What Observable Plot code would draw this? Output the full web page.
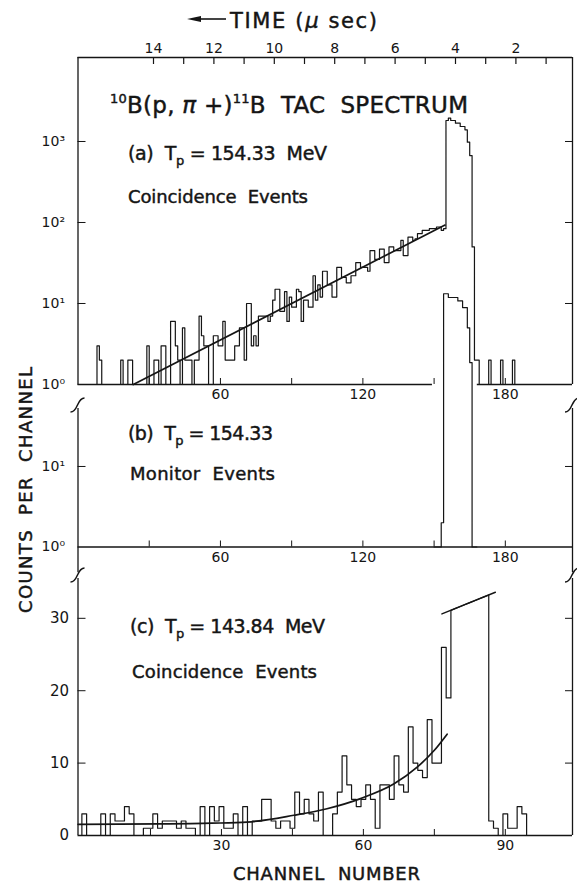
<!DOCTYPE html>
<html><head><meta charset="utf-8">
<script src="https://cdn.jsdelivr.net/npm/d3@7"></script>
<script src="https://cdn.jsdelivr.net/npm/@observablehq/plot@0.6"></script>
<style>
html,body{margin:0;padding:0;background:#fff;}
#chart{position:relative;width:577px;height:886px;overflow:hidden;background:#fff;}
#chart svg{position:absolute;left:0;top:0;}
</style></head><body><div id="chart"></div>
<script>
// ---------------- data ----------------
const timeTicks = [1,2,3,4,5,6,7,8,9,10,11,12,13,14];
const timeLabels = [14,12,10,8,6,4,2];
const abTicks = [30,60,90,120,150,180];
const abLabels = [60,120,180];
const cTicks = [15,30,45,60,75,90];
const cLabels = [30,60,90];
const aYTicks = [10,100,1000];
const aYLabels = [1,10,100,1000];
const bYTicks = [10];
const bYLabels = [1,10];
const cYTicks = [10,20,30];
const cYLabels = [0,10,20,30];

// (a) coincidence events, counts per channel starting at channel 0
const aStart = 0;
const aCounts = [
  0,0,0,0,0,0,0,0, 3,2,                 // 0-9
  0,0,0,0,0,0,0,0, 2,0,                 // 10-19
  0,2,2,0,0,0,0,0,0,3,                  // 20-29
  0,0,2,2,0,3,3,0,0,6,                  // 30-39
  6,3,2,0,5,2,2,2,0,2,                  // 40-49
  2,7,4,3,3,0,0,4,4,3,                  // 50-59
  3,6,2,2,2,2,3,3,5,5,                  // 60-69
  2,10,10,3,4,3,7,7,7,7,                // 70-79
  6,7,11,15,15,8,8,14,6,12,             // 80-89
  9,9,15,14,6,11,11,9,9,22,             // 90-99
  11,17,12,25,25,17,17,12,12,28,        // 100-109
  28,21,21,18,18,22,22,32,32,28,        // 110-119
  28,28,25,45,45,35,35,47,47,32,        // 120-129
  32,50,50,45,45,45,60,39,39,66,        // 130-139
  66,60,63,73,73,80,80,80,84,84,        // 140-149
  84,88,88,80,84,1816,1940,1816,1816,1683, // 150-159
  1683,1531,1531,1394,980,671,50,2,2,0, // 160-169
  0,0,0,2,0,0,0,0,2,0,                  // 170-179
  0,0,0,2,0                             // 180-184
];
const aFit = [{ch: 23.3, n: 1}, {ch: 154.6, n: 93}];
const aBaseline = [{from: 0, to: 149.3}, {from: 168.2, to: 208.3}];

// (b) monitor events (channels 150-167)
const bStart = 150;
const bCounts = [0,0,0,2,1397,1397,1255,1255,1255,1255,1137,1137,940,940,527,195,0,0];

// (c) coincidence events at 143.84 MeV, channel 0..95 (null = off scale)
const cStart = 0;
const cCounts = [
  0,3,0,0,0,3,0,3,2,2,            // 0-9
  4,3,0,0,1,1,3,1,2,2,            // 10-19
  2,1,2,1,1,0,4,0,4,2,            // 20-29
  4,1,1,3,0,4,0,2,2,5,            // 30-39
  5,2,1,2,2,1,6,3,5,3,            // 40-49
  2,6,0,0,3,6,11,7,5,4,           // 50-59
  5,7,5,1,7,7,5,11,7,6,           // 60-69
  15,10,9,8,16,10,10,26,19,null,  // 70-79
  null,null,null,null,null,null,null,2,1,0, // 80-89
  3,1,1,4,3,0                     // 90-95
];
const cFit = [
  {ch: -0.3, n: 1.55}, {ch: 17, n: 1.6}, {ch: 28, n: 1.7}, {ch: 35.4, n: 1.85},
  {ch: 45.3, n: 2.8}, {ch: 52.3, n: 3.7}, {ch: 59.4, n: 5.1}, {ch: 66.4, n: 7.1},
  {ch: 71.3, n: 9.4}, {ch: 74.9, n: 11.7}, {ch: 77.7, n: 14}
];
const cCap = [{ch: 76.6, n: 30.6}, {ch: 87.9, n: 33.6}];

// ---------------- layout ----------------
const W = 577, H = 886;
const L = 77.5, R = 572;
const abDomain = [0, 208.3];
const cDomain = [-0.32, 104.2];
const aTop = 10890, bTop = 52.5, bLow = 0.48, cTop = 35.5;
const INK = "#151515";
const style = {background: "transparent", overflow: "visible", fontFamily: "'DejaVu Sans', sans-serif", fontSize: "14px", color: INK};
const SUP = {0: "\u2070", 1: "\u00B9", 2: "\u00B2", 3: "\u00B3"};
const pow = d => "10" + SUP[Math.round(Math.log10(d))];

function steps(start, counts, offset, floor, cap) {
  const capN = cap ? d3.scaleLinear(cap.map(d => d.ch), cap.map(d => d.n)) : null;
  const pts = [];
  counts.forEach((v, i) => {
    const x0 = start + i - offset, x1 = x0 + 1;
    if (v == null) pts.push({ch: x0, n: capN(x0)}, {ch: x1, n: capN(x1)});
    else { const n = Math.max(v, floor); pts.push({ch: x0, n}, {ch: x1, n}); }
  });
  return pts;
}

const root = document.getElementById("chart");
function place(el) { root.appendChild(el); }

// top time axis
place(Plot.plot({
  width: W, height: H, marginLeft: L, marginRight: W - R, marginTop: 57, marginBottom: H - 384,
  style,
  x: {domain: [(575.8 - L) / 30.2, (575.8 - R) / 30.2], label: null},
  marks: [
    Plot.axisX({anchor: "top", ticks: timeTicks, tickSize: -6, tickPadding: 11, label: null,
      tickFormat: d => timeLabels.includes(d) ? String(d) : "", stroke: INK, strokeWidth: 1.2})
  ]
}));

// panel (a)
place(Plot.plot({
  width: W, height: H, marginLeft: L, marginRight: W - R, marginTop: 57, marginBottom: H - 384,
  style,
  x: {domain: abDomain, label: null},
  y: {type: "log", domain: [1, aTop], label: null},
  marks: [
    Plot.ruleX(abDomain, {y1: 1, y2: aTop, stroke: INK, strokeWidth: 1.3}),
    Plot.ruleY([aTop], {stroke: INK, strokeWidth: 1.3}),
    Plot.ruleY(aBaseline, {y: 1, x1: "from", x2: "to", stroke: INK, strokeWidth: 1.3}),
    Plot.axisX({anchor: "bottom", ticks: abTicks, tickSize: -6, tickPadding: 11, label: null,
      tickFormat: d => abLabels.includes(d) ? String(d) : "", stroke: INK}),
    Plot.axisY({anchor: "left", ticks: aYTicks, tickSize: -8, label: null, tickFormat: () => "", stroke: INK}),
    Plot.axisY({anchor: "right", ticks: aYTicks, tickSize: -8, label: null, tickFormat: () => "", stroke: INK}),
    Plot.text(aYLabels, {y: d => d, frameAnchor: "left", text: pow, textAnchor: "end", dx: -13, fontSize: 14}),
    Plot.line(steps(aStart, aCounts, 0, 1), {x: "ch", y: "n", stroke: INK, strokeWidth: 1.2}),
    Plot.line(aFit, {x: "ch", y: "n", stroke: INK, strokeWidth: 1.7})
  ]
}));

// panel (b)
place(Plot.plot({
  width: W, height: H, marginLeft: L, marginRight: W - R, marginTop: 408, marginBottom: H - 546.5,
  style,
  x: {domain: abDomain, label: null},
  y: {type: "log", domain: [1, bTop], label: null},
  marks: [
    Plot.ruleX(abDomain, {y1: bLow, y2: bTop, stroke: INK, strokeWidth: 1.3}),
    Plot.ruleY([1], {stroke: INK, strokeWidth: 1.3}),
    Plot.axisX({anchor: "bottom", ticks: abTicks, tickSize: -6, tickPadding: 11, label: null,
      tickFormat: d => abLabels.includes(d) ? String(d) : "", stroke: INK}),
    Plot.axisY({anchor: "left", ticks: bYTicks, tickSize: -8, label: null, tickFormat: () => "", stroke: INK}),
    Plot.axisY({anchor: "right", ticks: bYTicks, tickSize: -8, label: null, tickFormat: () => "", stroke: INK}),
    Plot.text(bYLabels, {y: d => d, frameAnchor: "left", text: pow, textAnchor: "end", dx: -13, fontSize: 14}),
    Plot.line(steps(bStart, bCounts, 0, 1), {x: "ch", y: "n", stroke: INK, strokeWidth: 1.2})
  ]
}));

// panel (c)
place(Plot.plot({
  width: W, height: H, marginLeft: L, marginRight: W - R, marginTop: 578, marginBottom: H - 835,
  style,
  x: {domain: cDomain, label: null},
  y: {domain: [0, cTop], label: null},
  marks: [
    Plot.ruleX(cDomain, {y1: 0, y2: cTop, stroke: INK, strokeWidth: 1.3}),
    Plot.ruleY([0], {stroke: INK, strokeWidth: 1.3}),
    Plot.axisX({anchor: "bottom", ticks: cTicks, tickSize: -6, tickPadding: 11, label: null,
      tickFormat: d => cLabels.includes(d) ? String(d) : "", stroke: INK}),
    Plot.axisY({anchor: "left", ticks: cYTicks, tickSize: -8, label: null, tickFormat: () => "", stroke: INK}),
    Plot.axisY({anchor: "right", ticks: cYTicks, tickSize: -8, label: null, tickFormat: () => "", stroke: INK}),
    Plot.text(cYLabels, {y: d => d, frameAnchor: "left", text: d => String(d), textAnchor: "end", dx: -9, fontSize: 15}),
    Plot.line(steps(cStart, cCounts, 0.5, 0, cCap), {x: "ch", y: "n", stroke: INK, strokeWidth: 1.2, clip: true}),
    Plot.line(cFit, {x: "ch", y: "n", curve: "monotone-x", stroke: INK, strokeWidth: 1.7}),
    Plot.line(cCap, {x: "ch", y: "n", stroke: INK, strokeWidth: 1.4})
  ]
}));

// ---------------- overlay: texts and axis breaks ----------------
const svg = d3.create("svg").attr("width", W).attr("height", H)
  .style("overflow", "visible")
  .attr("font-family", "'DejaVu Sans', sans-serif").attr("fill", INK);

function label({x, y, parts, size, len, anchor = "start", transform}) {
  const t = svg.append("text").attr("x", x).attr("y", y).attr("font-size", size)
    .attr("text-anchor", anchor).style("white-space", "pre")
    .attr("stroke", INK).attr("stroke-width", 0.45);
  if (transform) t.attr("transform", transform);
  if (len) t.attr("textLength", len).attr("lengthAdjust", "spacing");
  for (const p of parts) {
    const s = t.append("tspan").text(p.t);
    if (p.dy) s.attr("dy", p.dy);
    if (p.size) s.attr("font-size", p.size);
    if (p.style) s.attr("font-style", p.style);
  }
}

// time axis title with arrow
svg.append("line").attr("x1", 226).attr("x2", 196).attr("y1", 19).attr("y2", 19)
  .attr("stroke", INK).attr("stroke-width", 1.6);
svg.append("path").attr("d", "M187,19 L201,16 L201,22 Z").attr("fill", INK);
label({x: 230, y: 28, size: 21, len: 147, parts: [{t: "TIME ("}, {t: "\u03BC", style: "italic"}, {t: " sec)"}]});

// panel texts
label({x: 110, y: 113, size: 23, len: 358, parts: [
  {t: "10", size: 13, dy: -10}, {t: "B(p, ", dy: 10}, {t: "\u03C0", style: "italic"}, {t: " +)"},
  {t: "11", size: 13, dy: -10}, {t: "B  TAC  SPECTRUM", dy: 10}]});
label({x: 128, y: 160, size: 19, len: 199, parts: [
  {t: "(a)  T"}, {t: "p", size: 13, dy: 5}, {t: " = 154.33  MeV", dy: -5}]});
label({x: 128, y: 203, size: 18, len: 180, parts: [{t: "Coincidence  Events"}]});
label({x: 128, y: 440, size: 19, len: 145, parts: [
  {t: "(b)  T"}, {t: "p", size: 13, dy: 5}, {t: " = 154.33", dy: -5}]});
label({x: 130, y: 480, size: 18, len: 145, parts: [{t: "Monitor  Events"}]});
label({x: 130, y: 633, size: 19, len: 195, parts: [
  {t: "(c)  T"}, {t: "p", size: 13, dy: 5}, {t: " = 143.84  MeV", dy: -5}]});
label({x: 132, y: 678, size: 18, len: 185, parts: [{t: "Coincidence  Events"}]});

// axis titles
label({x: 326.5, y: 880, size: 18, len: 187, anchor: "middle", parts: [{t: "CHANNEL  NUMBER"}]});
label({x: 0, y: 0, size: 18, len: 246, anchor: "middle", transform: "translate(32,490) rotate(-90)",
  parts: [{t: "COUNTS  PER  CHANNEL"}]});

// axis break marks
for (const [bx, by] of [[L, 405], [R, 405], [L, 575], [R, 575]]) {
  svg.append("path")
    .attr("d", `M${bx - 7},${by + 7} Q${bx - 3},${by + 7} ${bx},${by} T${bx + 7},${by - 7}`)
    .attr("fill", "none").attr("stroke", INK).attr("stroke-width", 1.5);
}
place(svg.node());
</script>
</body></html>
